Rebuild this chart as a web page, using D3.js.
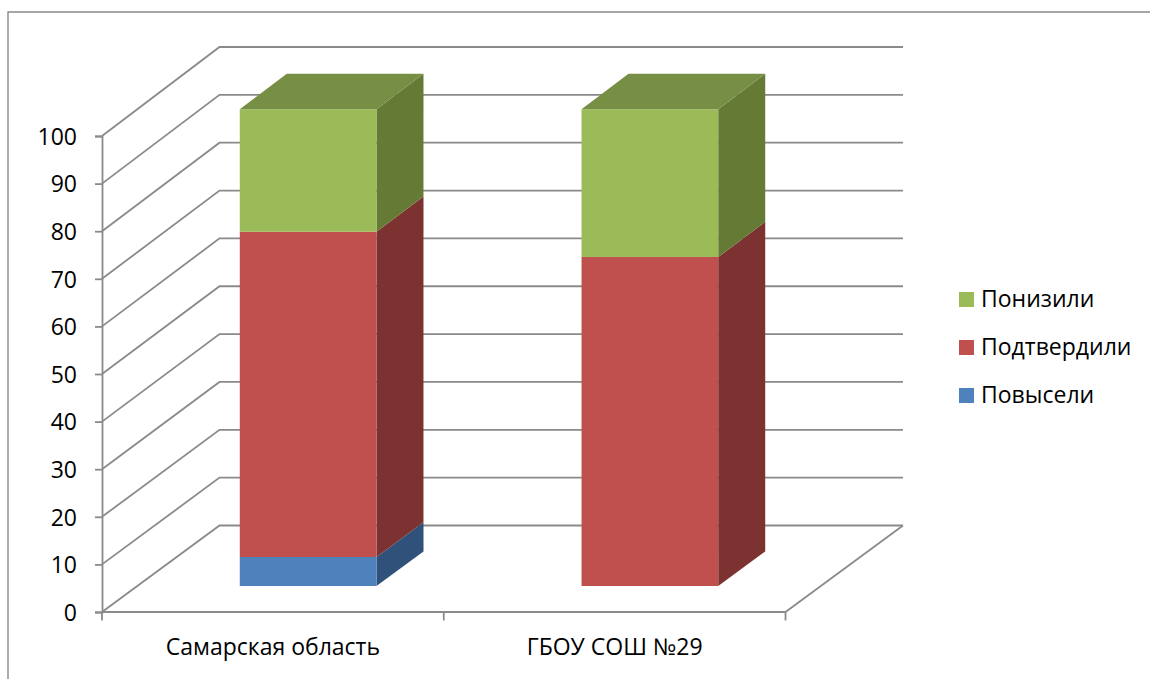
<!DOCTYPE html>
<html lang="ru">
<head>
<meta charset="utf-8">
<title>Самарская область и ГБОУ СОШ №29</title>
<script src="https://cdn.jsdelivr.net/npm/d3@7/dist/d3.min.js"></script>
<style>
  html, body { margin: 0; padding: 0; background: #fff; }
  svg { display: block; }
  text { font-family: "Open Sans", "Noto Sans", sans-serif; fill: #000; }
</style>
</head>
<body>
<svg id="chart" width="1150" height="679"></svg>
<script>
// Chart data
const categories = ["Самарская область", "ГБОУ СОШ №29"];
const seriesNames = ["Повысели", "Подтвердили", "Понизили"];
const raised = [6.1, 0];
const confirmed = [68.2, 69];
const lowered = [25.7, 31];
const yTicks = [0, 10, 20, 30, 40, 50, 60, 70, 80, 90, 100];

// Face colours per series: front, side, top
const faceColors = {
  "Повысели": ["#4f81bd", "#30527a", "#3f6797"],
  "Подтвердили": ["#c0504d", "#7c3230", "#99403d"],
  "Понизили": ["#9bbb59", "#647a35", "#778f45"]
};

const svg = d3.select("#chart");
const gridColor = "#8a8a8a";
const fontSize = 23;

// Scales for the front plane and the back wall of the 3D box
const x = d3.scaleBand().domain(categories).range([102, 785.5])
  .paddingInner(0.6).paddingOuter(0.3);
const yFront = d3.scaleLinear().domain([0, 100]).range([612, 136]);
const yBack = d3.scaleLinear().domain([0, 100]).range([525.5, 47]);
const depthX = d3.scaleLinear().domain([0, 1]).range([0, 117.5]);

// Projects a position (front-plane x, value, depth 0..1) to the screen
function project(px, v, d) {
  return [px + depthX(d), yFront(v) * (1 - d) + yBack(v) * d];
}
const poly = pts => "M" + pts.map(p => p.join(",")).join("L") + "Z";

// Page frame, open on the right and at the bottom
svg.append("path")
  .attr("d", "M8,679V12H1150")
  .attr("fill", "none").attr("stroke", gridColor).attr("stroke-width", 1.4);

// Gridlines run across the side wall and along the back wall
const grid = svg.append("g").attr("fill", "none").attr("stroke", gridColor).attr("stroke-width", 1.8);
grid.selectAll("path").data(yTicks).join("path")
  .attr("d", v => {
    const a = project(x.range()[0], v, 0);
    const b = project(x.range()[0], v, 1);
    const c = project(x.range()[1], v, 1);
    return `M${a}L${b}L${c}`;
  });
// Right edge of the floor
const floorA = project(x.range()[1], 0, 0);
const floorB = project(x.range()[1], 0, 1);
grid.append("path").attr("d", `M${floorA}L${floorB}`);

// Value axis
const yAxis = d3.axisLeft(yFront).tickValues(yTicks).tickSize(7).tickPadding(18);
const yG = svg.append("g").attr("transform", "translate(102,0)").call(yAxis);
yG.select(".domain").attr("stroke", gridColor).attr("stroke-width", 1.8);
yG.selectAll(".tick line").attr("stroke", gridColor).attr("stroke-width", 1.8);
yG.selectAll(".tick text").attr("font-size", fontSize).attr("font-family", null).attr("dy", "0.36em");

// Category axis: labels centred in each band, ticks on band boundaries
const xAxis = d3.axisBottom(x).tickSize(0).tickPadding(27);
const xG = svg.append("g").attr("transform", "translate(0,612)").call(xAxis);
xG.select(".domain").remove();
xG.selectAll(".tick text").attr("font-size", fontSize).attr("font-family", null);
const edges = [0, 1, 2].map(i => x.range()[0] + i * x.step());
svg.append("g").selectAll("line").data(edges).join("line")
  .attr("x1", d => d).attr("x2", d => d)
  .attr("y1", 612).attr("y2", 620.5)
  .attr("stroke", gridColor).attr("stroke-width", 1.8);
svg.append("line")
  .attr("x1", x.range()[0]).attr("x2", x.range()[1])
  .attr("y1", 612).attr("y2", 612)
  .attr("stroke", gridColor).attr("stroke-width", 1.8);

// Stacked 3D columns
const rows = categories.map((c, i) => ({
  category: c,
  "Повысели": raised[i],
  "Подтвердили": confirmed[i],
  "Понизили": lowered[i]
}));
const stack = d3.stack().keys(seriesNames)(rows);
const d0 = 0.3, d1 = 0.7;

const bars = svg.append("g");
stack.forEach(layer => {
  const [front, side, top] = faceColors[layer.key];
  layer.forEach(seg => {
    const [v0, v1] = seg;
    if (v1 - v0 <= 0) return;
    const left = x(seg.data.category);
    const right = left + x.bandwidth();
    const g = bars.append("g");
    g.append("path").attr("fill", side).attr("d", poly([
      project(right, v0, d0), project(right, v0, d1),
      project(right, v1, d1), project(right, v1, d0)
    ]));
    g.append("path").attr("fill", front).attr("d", poly([
      project(left, v0, d0), project(right, v0, d0),
      project(right, v1, d0), project(left, v1, d0)
    ]));
    // Only the highest segment shows its upper face
    if (v1 >= 99.9) {
      g.append("path").attr("fill", top).attr("d", poly([
        project(left, v1, d0), project(right, v1, d0),
        project(right, v1, d1), project(left, v1, d1)
      ]));
    }
  });
});

// Legend, listed from the top of the stack downwards
const legendY = d3.scalePoint().domain(seriesNames.slice().reverse()).range([299.5, 395.5]);
const legend = svg.append("g");
seriesNames.slice().reverse().forEach(name => {
  legend.append("rect")
    .attr("x", 959).attr("y", legendY(name) - 7.5)
    .attr("width", 15).attr("height", 15)
    .attr("fill", faceColors[name][0]);
  legend.append("text")
    .attr("x", 981).attr("y", legendY(name) + 7.5)
    .attr("font-size", fontSize)
    .text(name);
});
</script>
</body>
</html>
